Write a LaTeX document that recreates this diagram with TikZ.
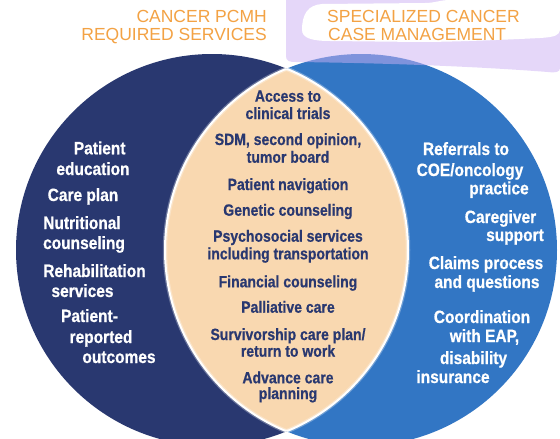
\documentclass[tikz,border=0pt]{standalone}
\usepackage{fontspec}
\setmainfont{Liberation Sans}
\newfontfamily\condfont[FakeStretch=0.87,FakeBold=0.7]{Liberation Sans}
\newfontfamily\lensfont[FakeStretch=0.86,FakeBold=0.6]{Liberation Sans}

\definecolor{navycircle}{RGB}{41,56,112}
\definecolor{bluecircle}{RGB}{50,118,196}
\definecolor{peach}{RGB}{249,216,176}
\definecolor{lenstext}{RGB}{41,56,112}
\definecolor{titleorange}{RGB}{243,162,68}
\definecolor{lavender}{RGB}{205,177,245}

\tikzset{
  sidetext/.style={text=white, inner sep=0pt, anchor=base,
    font=\condfont\bfseries\fontsize{17.8}{20}\selectfont},
  lenstxt/.style={text=lenstext, inner sep=0pt, anchor=base,
    font=\lensfont\bfseries\fontsize{16.3}{17.5}\selectfont},
  heading/.style={text=titleorange, inner sep=0pt,
    font=\fontsize{17.5}{20}\selectfont},
  lensedge/.style={white, line width=2pt},
  lensglow/.style={white, line width=4.5pt, opacity=0.3}
}

\begin{document}
\begin{tikzpicture}[x=1pt,y=-1pt]
  \useasboundingbox (0,0) rectangle (560,439);
  \clip (0,0) rectangle (560,439);
  \fill[white] (0,0) rectangle (560,439);

  % the two sets
  \fill[navycircle] (212,250) circle[radius=196pt];
  \fill[bluecircle] (361,250) circle[radius=196pt];

  % overlap of the two sets
  \begin{scope}
    \clip (212,250) circle[radius=196pt];
    \fill[peach] (361,250) circle[radius=196pt];
    \draw[lensglow] (361,250) circle[radius=196pt];
    \draw[lensedge] (361,250) circle[radius=196pt];
  \end{scope}
  \begin{scope}
    \clip (361,250) circle[radius=196pt];
    \draw[lensglow] (212,250) circle[radius=196pt];
    \draw[lensedge] (212,250) circle[radius=196pt];
  \end{scope}

  % highlighter stroke around the right heading
  \fill[lavender, opacity=0.5]
    (286,0) -- (286,56) .. controls (286,61) and (289,62) .. (296,62)
    .. controls (380,63) and (470,66) .. (548,72)
    .. controls (556,73) and (560,72) .. (560,68) -- (560,0) -- cycle;
  \fill[white]
    (302,30) .. controls (302,14) and (308,5) .. (322,4)
    -- (425,3) .. controls (435,3) and (440,0) .. (450,0)
    -- (560,0) -- (560,30) .. controls (559,35) and (556,37) .. (540,38)
    .. controls (480,41) and (440,42) .. (420,42)
    -- (330,41) .. controls (312,41) and (302,38) .. cycle;

  % headings
  \node[heading, anchor=base east] (hl1) at (267,22.7) {CANCER PCMH};
  \node[heading, anchor=base east] (hl2) at (267,40) {REQUIRED SERVICES};
  \node[heading, anchor=base west] (hr1) at (327,22.7) {SPECIALIZED CANCER};
  \node[heading, anchor=base west] (hr2) at (328,40) {CASE MANAGEMENT};

  % cancer PCMH services
  \node[sidetext] (l1)  at (99.7,154.3) {Patient};
  \node[sidetext] (l2)  at (93,175)     {education};
  \node[sidetext] (l3)  at (83,201)     {Care plan};
  \node[sidetext] (l4)  at (82,229)     {Nutritional};
  \node[sidetext] (l5)  at (84,249)     {counseling};
  \node[sidetext] (l6)  at (94.5,277)   {Rehabilitation};
  \node[sidetext] (l7)  at (82.5,297)   {services};
  \node[sidetext] (l8)  at (89.5,322)   {Patient-};
  \node[sidetext] (l9)  at (101,343)    {reported};
  \node[sidetext] (l10) at (119,363)    {outcomes};

  % case management services
  \node[sidetext] (r1)  at (466,155)    {Referrals to};
  \node[sidetext] (r2)  at (470,176)    {COE/oncology};
  \node[sidetext] (r3)  at (499,194.3)  {practice};
  \node[sidetext] (r4)  at (500.5,223)  {Caregiver};
  \node[sidetext] (r5)  at (515,241)    {support};
  \node[sidetext] (r6)  at (486,269)    {Claims process};
  \node[sidetext] (r7)  at (487,288)    {and questions};
  \node[sidetext] (r8)  at (482,323)    {Coordination};
  \node[sidetext] (r9)  at (484.5,342)  {with EAP,};
  \node[sidetext] (r10) at (473.5,364)  {disability};
  \node[sidetext] (r11) at (453,383)    {insurance};

  % shared services
  \node[lenstxt] (c1)  at (288,101.7) {Access to};
  \node[lenstxt] (c2)  at (288,119)   {clinical trials};
  \node[lenstxt] (c3)  at (288,145)   {SDM, second opinion,};
  \node[lenstxt] (c4)  at (288,162.7) {tumor board};
  \node[lenstxt] (c5)  at (288,190)   {Patient navigation};
  \node[lenstxt] (c6)  at (288,215.7) {Genetic counseling};
  \node[lenstxt] (c7)  at (288,241.7) {Psychosocial services};
  \node[lenstxt] (c8)  at (288,259.3) {including transportation};
  \node[lenstxt] (c9)  at (288,287.3) {Financial counseling};
  \node[lenstxt] (c10) at (288,312.7) {Palliative care};
  \node[lenstxt] (c11) at (288,340)   {Survivorship care plan/};
  \node[lenstxt] (c12) at (288,356.7) {return to work};
  \node[lenstxt] (c13) at (288,383.3) {Advance care};
  \node[lenstxt] (c14) at (288,399)   {planning};
\end{tikzpicture}
\end{document}
